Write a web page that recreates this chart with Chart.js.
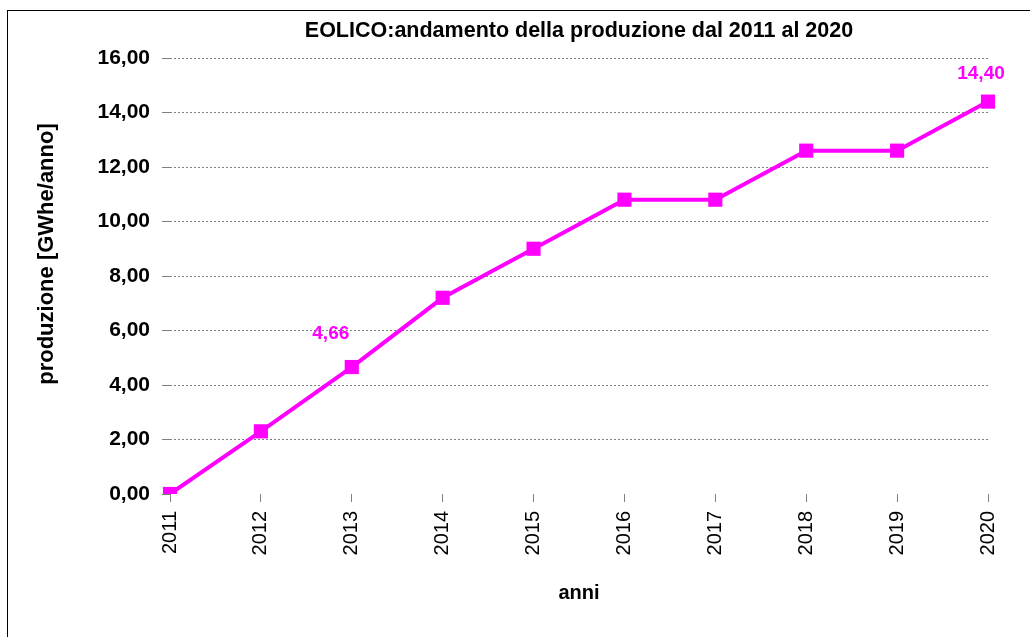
<!DOCTYPE html>
<html>
<head>
<meta charset="utf-8">
<script src="https://cdn.jsdelivr.net/npm/chart.js@4/dist/chart.umd.min.js"></script>
<style>
	html, body { margin: 0; padding: 0; background: #fff; }
	#wrap { position: relative; width: 1030px; height: 637px; overflow: hidden; }
	#frame { position: absolute; left: 7px; top: 10px; width: 1100px; height: 700px; border-left: 1px solid #000; border-top: 1px solid #000; }
	canvas { position: absolute; left: 0; top: 0; }
</style>
</head>
<body>
<div id="wrap">
	<div id="frame"></div>
	<canvas id="chart" width="1030" height="637"></canvas>
</div>
<script>
const TITLE = 'EOLICO:andamento della produzione dal 2011 al 2020';
const Y_TITLE = 'produzione [GWhe/anno]';
const X_TITLE = 'anni';
const years = ['2011', '2012', '2013', '2014', '2015', '2016', '2017', '2018', '2019', '2020'];
const produzione = [0.0, 2.3, 4.66, 7.2, 9.0, 10.8, 10.8, 12.6, 12.6, 14.4];
// only these points carry a value label
const labelled = [2, 9];
const labelShift = {2: [-21, -33], 9: [-7, -28]};

const MAGENTA = '#ff00ff';
const FONT = '"Liberation Sans", Arial, sans-serif';
const fmt = v => v.toFixed(2).replace('.', ',');

//chart title centred over the plot area, y title sits a little above centre
const titlesPlugin = {
	id: 'titles',
	afterDraw(chart) {
		let {ctx, chartArea} = chart;
		ctx.save();
		ctx.fillStyle = '#000';
		ctx.textAlign = 'center';
		ctx.textBaseline = 'middle';
		ctx.font = 'bold 21.5px ' + FONT;
		ctx.fillText(TITLE, (chartArea.left + chartArea.right) / 2, 31);

		ctx.font = 'bold 22px ' + FONT;
		ctx.translate(47, 254);
		ctx.rotate(-Math.PI / 2);
		ctx.fillText(Y_TITLE, 0, 0);
		ctx.restore();
	}
};

const valueLabels = {
	id: 'valueLabels',
	afterDatasetsDraw(chart) {
		let ctx = chart.ctx;
		let meta = chart.getDatasetMeta(0);
		ctx.save();
		ctx.font = 'bold 19px ' + FONT;
		ctx.fillStyle = MAGENTA;
		ctx.textAlign = 'center';
		ctx.textBaseline = 'middle';
		labelled.forEach(i => {
			let pt = meta.data[i];
			let [dx, dy] = labelShift[i];
			ctx.fillText(fmt(produzione[i]), pt.x + dx, pt.y + dy);
		});
		ctx.restore();
	}
};

new Chart(document.querySelector('#chart'), {
	type: 'line',
	data: {
		labels: years,
		datasets: [{
			data: produzione,
			borderColor: MAGENTA,
			backgroundColor: MAGENTA,
			borderWidth: 4,
			tension: 0,
			pointStyle: 'rect',
			pointRadius: 10,
			pointHoverRadius: 10,
			pointBorderWidth: 0
		}]
	},
	options: {
		responsive: false,
		animation: false,
		events: [],
		layout: { padding: { top: 58, right: 42, left: 0, bottom: 0 } },
		plugins: {
			legend: { display: false },
			tooltip: { enabled: false },
			title: { display: false }
		},
		scales: {
			x: {
				offset: false,
				grid: { drawOnChartArea: false, drawTicks: true, tickLength: 8, color: '#808080' },
				border: { display: false },
				ticks: {
					minRotation: 90, maxRotation: 90, padding: 9,
					color: '#000',
					font: { family: FONT, size: 20 }
				},
				title: {
					display: true, text: X_TITLE, color: '#000',
					font: { family: FONT, size: 20, weight: 'bold' },
					padding: { top: 0, bottom: 32 }
				},
				afterFit: s => { s.height = 143; }
			},
			y: {
				min: 0, max: 16,
				grid: {
					color: ctx => ctx.tick && ctx.tick.value === 0 ? 'rgba(0,0,0,0)' : '#808080',
					tickColor: '#808080',
					tickLength: 8,
					lineWidth: 1
				},
				border: { display: false, dash: [2, 2] },
				ticks: {
					stepSize: 2, padding: 12, color: '#000',
					callback: v => fmt(v),
					font: { family: FONT, size: 21, weight: 'bold' }
				},
				afterFit: s => { s.width = 170; }
			}
		}
	},
	plugins: [titlesPlugin, valueLabels]
});
</script>
</body>
</html>
